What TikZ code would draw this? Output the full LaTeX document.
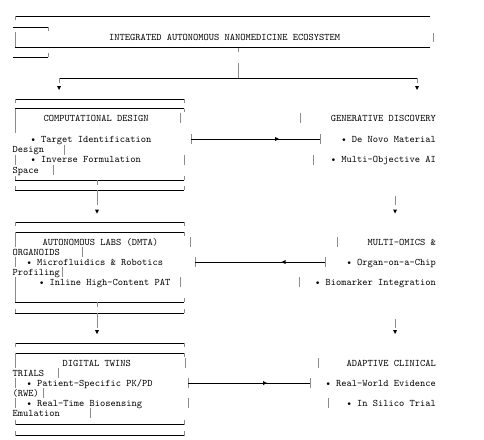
\documentclass[tikz,border=0pt]{standalone}
\newcommand\mbar[3]{\draw[vbar] (#1,#2) -- (#1,#3);}
\newcommand\dtip[2]{\fill[tip] ({#1-2},{#2-4}) -- ({#1+2},{#2-4}) -- (#1,#2) -- cycle;}
\newcommand\rtip[2]{\fill[tip] (#1,#2) -- ({#1-4},{#2-2}) -- ({#1-4},{#2+2}) -- cycle;}
\newcommand\ltip[2]{\fill[tip] (#1,#2) -- ({#1+4},{#2-2}) -- ({#1+4},{#2+2}) -- cycle;}
\begin{document}
\begin{tikzpicture}[x=1pt,y=-1pt,
  hline/.style={draw=black,line width=0.75pt},
  vbar/.style={draw=black!45,line width=0.8pt},
  tip/.style={fill=black,draw=none},
  lab/.style={font=\ttfamily\fontsize{10}{12}\selectfont,inner sep=0pt,text=black},
  lw/.style={lab,anchor=base west},
  le/.style={lab,anchor=base east},
]
\useasboundingbox (0,0) rectangle (484,439);

% ---------- top box ----------
\draw[hline] (15,16) -- (430,16);  \mbar{15}{16}{20}
\draw[hline] (13,27) -- (48,27);   \mbar{48}{27}{31}
\mbar{15}{32}{47}
\draw[hline] (15,47) -- (430,47);
\mbar{433}{33}{42}
\draw[hline] (13,57) -- (48,57);   \mbar{48}{53}{57}
\node[lab,anchor=base] (title) at (224.5,40) {INTEGRATED AUTONOMOUS NANOMEDICINE ECOSYSTEM};
\mbar{238}{48}{52}
\coordinate (root) at (238,63);
\coordinate (split) at (238,78);
\coordinate (bl) at (59,78);
\coordinate (br) at (417,78);
\draw[vbar] (root) -- (split);
\draw[hline] (bl) -- (br);
\coordinate (bla) at (59,83); \coordinate (bra) at (417,83);
\draw[vbar] (bl) -- (bla); \draw[vbar] (br) -- (bra);
\dtip{59}{90} \dtip{417}{90}

% ---------- section 1 ----------
\draw[hline] (15,99) -- (184,99);   \mbar{15}{99}{103} \mbar{184}{99}{103}
\draw[hline] (15,108.5) -- (184,108.5); \mbar{184}{108.5}{112}
\mbar{15}{108.5}{133}
\node[lw] (s1t) at (43.5,121) {COMPUTATIONAL DESIGN};
\mbar{180}{113}{123}
\node[le] (g1t) at (436,121) {GENERATIVE DISCOVERY};
\mbar{300}{113}{123}

\node[lw] (s1a) at (30.5,142) {• Target Identification};
\coordinate (a1s) at (191,139); \coordinate (a1e) at (320,139);
\mbar{191}{134}{144} \mbar{320}{134}{144}
\draw[hline] (a1s) -- (a1e); \rtip{279}{139}
\node[le] (g1a) at (436,142) {• De Novo Material};

\node[lw] (s1b) at (12.5,152.5) {Design}; \mbar{64}{145}{155}
\mbar{15}{155}{165}
\node[lw] (s1c) at (30.5,162.5) {• Inverse Formulation}; \mbar{184}{155}{165}
\node[le] (g1b) at (436,162.5) {• Multi-Objective AI}; \mbar{313}{155}{165}
\node[lw] (s1d) at (12.5,173.5) {Space}; \mbar{53}{165}{175}

\draw[hline] (15,180) -- (184,180); \mbar{15}{176}{180} \mbar{184}{176}{180} \mbar{97}{180}{185}
\draw[hline] (15,190) -- (184,190); \mbar{15}{186}{190} \mbar{184}{186}{190}
\coordinate (c1a) at (97,190); \coordinate (c1b) at (97,205);
\draw[vbar] (c1a) -- (c1b); \dtip{97}{213.5}
\coordinate (d1a) at (395,196); \coordinate (d1b) at (395,205);
\draw[vbar] (d1a) -- (d1b); \dtip{395}{213.5}

% ---------- section 2 ----------
\draw[hline] (15,222) -- (184,222);  \mbar{15}{222}{226} \mbar{184}{222}{226}
\draw[hline] (15,232) -- (184,232);  \mbar{184}{232}{236}
\mbar{15}{232}{247}
\node[lw] (s2t) at (42.5,245) {AUTONOMOUS LABS (DMTA)}; \mbar{190}{237}{247}
\node[le] (g2t) at (436,245) {MULTI-OMICS \&}; \mbar{337}{237}{247}
\node[lw] (s2a) at (12.5,255) {ORGANOIDS}; \mbar{82}{247}{257}
\mbar{15}{257}{267}
\node[lw] (s2b) at (26.5,265) {• Microfluidics \& Robotics};
\coordinate (a2s) at (195,262); \coordinate (a2e) at (325,262);
\mbar{195}{257}{267} \mbar{325}{257}{267}
\draw[hline] (a2e) -- (a2s); \ltip{281.5}{262}
\node[le] (g2a) at (436,265) {• Organ-on-a-Chip};
\node[lw] (s2c) at (12.5,275) {Profiling}; \mbar{62}{267}{277}
\mbar{15}{277}{302}
\node[lw] (s2d) at (39,285) {• Inline High-Content PAT}; \mbar{180}{277}{287}
\node[le] (g2b) at (436,285) {• Biomarker Integration}; \mbar{299}{277}{287}

\draw[hline] (15,302) -- (184,302); \mbar{184}{298}{302} \mbar{97}{302}{307}
\draw[hline] (15,313) -- (184,313); \mbar{15}{309}{313} \mbar{184}{309}{313}
\coordinate (c2a) at (97,313); \coordinate (c2b) at (97,328);
\draw[vbar] (c2a) -- (c2b); \dtip{97}{334}
\coordinate (d2a) at (395,319); \coordinate (d2b) at (395,328);
\draw[vbar] (d2a) -- (d2b); \dtip{395}{334}

% ---------- section 3 ----------
\draw[hline] (15,343) -- (184,343);  \mbar{15}{343}{347} \mbar{184}{343}{347}
\draw[hline] (15,353) -- (184,353);  \mbar{184}{353}{357}
\mbar{15}{353}{368}
\node[lw] (s3t) at (62.5,366) {DIGITAL TWINS}; \mbar{185}{358}{368}
\node[le] (g3t) at (436,366) {ADAPTIVE CLINICAL}; \mbar{318}{358}{368}
\node[lw] (s3a) at (12.5,376) {TRIALS}; \mbar{58}{368}{378}
\mbar{15}{378}{388}
\node[lw] (s3b) at (26.5,386) {• Patient-Specific PK/PD};
\coordinate (a3s) at (188,383); \coordinate (a3e) at (310,383);
\mbar{188}{378}{388} \mbar{310}{378}{388}
\draw[hline] (a3s) -- (a3e); \rtip{267}{383}
\node[le] (g3a) at (436,386) {• Real-World Evidence};
\node[lw] (s3c) at (12.5,396) {(RWE)}; \mbar{43}{388}{398}
\mbar{15}{398}{408}
\node[lw] (s3d) at (26.5,406) {• Real-Time Biosensing}; \mbar{188}{398}{408}
\node[le] (g3b) at (436,406) {• In Silico Trial}; \mbar{328}{398}{408}
\node[lw] (s3e) at (12.5,416) {Emulation}; \mbar{90}{408}{418}

\draw[hline] (15,424.5) -- (184,424.5); \mbar{15}{420}{424.5} \mbar{184}{420}{424.5}
\draw[hline] (15,435.5) -- (184,435.5); \mbar{15}{431}{435.5} \mbar{184}{431}{435.5}
\end{tikzpicture}
\end{document}
